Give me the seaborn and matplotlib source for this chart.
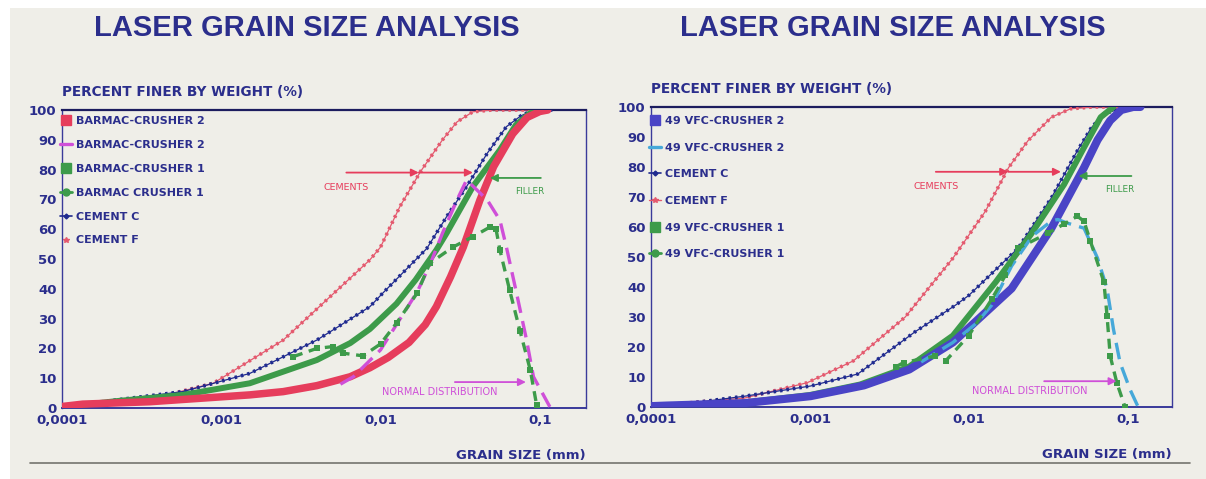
import matplotlib
matplotlib.use("Agg")
import numpy as np
import pandas as pd
import matplotlib.pyplot as plt
from matplotlib.lines import Line2D
from matplotlib.patches import Rectangle
import seaborn as sns

# ============================================================
# DATA (grain size in mm, percent finer by weight)
# ============================================================

# --- left chart : BARMAC ---
cemF_L_x = [0.0001, 0.000219, 0.000457, 0.000891, 0.00245, 0.00857, 0.01, 0.0132, 0.0178, 0.0245, 0.0302, 0.038, 0.05, 0.1]
cemF_L_y = [0.3, 2.2, 4.4, 8.3, 22.8, 49.7, 54, 67.5, 79.3, 90, 96, 99.4, 100, 100]

cemC_L_x = [0.0001, 0.000219, 0.000575, 0.00151, 0.00398, 0.00525, 0.00857, 0.01035, 0.0195, 0.026, 0.0347, 0.0468,
            0.0617, 0.0759, 0.0912, 0.12]
cemC_L_y = [0.3, 2.7, 5.5, 11.6, 22.8, 26.8, 34, 38.6, 53.5, 64.2, 74.3, 85.5, 94.4, 98, 100, 100]

barmac1_x = [0.0001, 0.000219, 0.000575, 0.00151, 0.00398, 0.00646, 0.00857, 0.0126, 0.0166, 0.0224, 0.026, 0.038,
             0.0562, 0.0708, 0.0871, 0.1122]
barmac1_y = [0.3, 2.3, 4.4, 8.3, 16.1, 21.8, 26.5, 35, 43, 53, 58.7, 74.3, 86.6, 95, 99, 100]

barmac2_x = [0.0001, 0.000135, 0.000355, 0.00151, 0.00245, 0.00398, 0.00646, 0.00857, 0.0112, 0.0151, 0.0191,
             0.0224, 0.0275, 0.0331, 0.0421, 0.0513, 0.0676, 0.0832, 0.1, 0.1122]
barmac2_y = [0.5, 1.3, 2.1, 4.4, 5.5, 7.5, 10.5, 13.5, 17, 22, 28, 34, 44, 54, 69.8, 81, 92, 97.5, 99.5, 100]

barmac2_dist_x = [0.0056, 0.00676, 0.01, 0.0126, 0.017, 0.0204, 0.0245, 0.0302, 0.0347, 0.0468, 0.0562, 0.0617,
                  0.0714, 0.0826, 0.0912, 0.1156]
barmac2_dist_y = [8, 10.5, 19.5, 28, 39, 48, 58.7, 69.8, 76.5, 69.8, 63, 54, 38.6, 22.8, 10.5, 0.4]

barmac1_dist_x = [0.00282, 0.00398, 0.00501, 0.00581, 0.00776, 0.01, 0.0126, 0.017, 0.0204, 0.0285, 0.038, 0.049,
                  0.0531, 0.0562, 0.0646, 0.075, 0.0871, 0.0955]
barmac1_dist_y = [17.2, 20, 20.6, 18.4, 17.5, 21.5, 28.5, 38.6, 48.6, 54, 57.5, 60.8, 60, 53, 39.6, 26, 12.8, 1]

# --- right chart : 49 VFC ---
cemF_R_x = [0.0001, 0.000389, 0.000962, 0.00188, 0.00398, 0.00794, 0.0127, 0.0178, 0.0236, 0.0331, 0.0437, 0.06, 0.1]
cemF_R_y = [0.3, 3.0, 8.1, 15.4, 30, 49.6, 65.2, 79.8, 88.8, 96.6, 99.4, 100, 100]

cemC_R_x = [0.0001, 0.000151, 0.000389, 0.00101, 0.002, 0.00457, 0.00822, 0.01, 0.0204, 0.0331, 0.0482, 0.0589,
            0.0708, 0.1, 0.12]
cemC_R_y = [0.3, 0.8, 3.6, 7, 11, 25, 33.9, 37.2, 52.9, 69.7, 85.4, 93, 97.8, 100, 100]

vfc2_x = [0.0001, 0.000126, 0.000389, 0.00101, 0.00219, 0.00422, 0.00794, 0.0186, 0.0331, 0.0531, 0.0646, 0.0776,
          0.0912, 0.1084, 0.1202]
vfc2_y = [0.3, 0.5, 1.3, 3.6, 7.2, 12.5, 21.5, 39.5, 59.6, 79.8, 89, 95.5, 99, 100, 100]

vfc1_x = [0.0001, 0.000389, 0.001, 0.00207, 0.00422, 0.00794, 0.0148, 0.0245, 0.0398, 0.0531, 0.0676, 0.0813]
vfc1_y = [0.3, 1.5, 4, 7.5, 13.5, 23.8, 41.7, 57.4, 74.2, 86.5, 96.6, 100]

vfc2_dist_x = [0.00501, 0.00794, 0.0112, 0.01396, 0.0186, 0.0251, 0.0331, 0.0363, 0.0417, 0.0531, 0.0646, 0.0741,
               0.0813, 0.0895, 0.1035, 0.1164]
vfc2_dist_y = [15, 21.5, 28, 34, 47, 57, 62, 62.5, 61.3, 59.6, 49.6, 39.5, 26, 14.8, 5.8, 0]

vfc1_dist_x = [0.0035, 0.00389, 0.00617, 0.00716, 0.01, 0.01396, 0.017, 0.0204, 0.0316, 0.0398, 0.0482, 0.0531,
               0.0583, 0.0708, 0.0741, 0.0776, 0.0855, 0.0962]
vfc1_dist_y = [13.5, 14.8, 17, 15.4, 23.8, 36, 43.9, 52.9, 58, 61, 63.6, 61.9, 55.2, 41.7, 30.5, 17, 8, 0]

x_ticks = [0.0001, 0.001, 0.01, 0.1]
x_tick_labels = ["0,0001", "0,001", "0,01", "0,1"]
y_ticks = list(range(0, 101, 10))

labels_L = ["BARMAC-CRUSHER 2", "BARMAC-CRUSHER 2", "BARMAC-CRUSHER 1", "BARMAC CRUSHER 1", "CEMENT C", "CEMENT F"]
labels_R = ["49 VFC-CRUSHER 2", "49 VFC-CRUSHER 2", "CEMENT C", "CEMENT F", "49 VFC-CRUSHER 1", "49 VFC-CRUSHER 1"]

# ============================================================
# STYLE
# ============================================================

sns.set_theme(style="white")
plt.rcParams["font.family"] = ["DejaVu Sans"]

NAVY = "#2b2e8c"
RED = "#e63d5c"
RED_F = "#e4596e"
MAGENTA = "#cf4fd8"
GREEN = "#3d9b4a"
BLUE_C = "#1f2a8f"
BLUE_V = "#4a44c6"
CYAN = "#46a8d9"
CREAM = "#efeee8"


def draw(ax, x, y, **kw):
    df = pd.DataFrame({"size": x, "pct": y})
    sns.lineplot(data=df, x="size", y="pct", ax=ax, estimator=None, sort=False,
                 legend=False, **kw)


def dotted(ax, x, y, color):
    # thin line + dense little markers, like the plotter output
    draw(ax, x, y, color=color, lw=0.9, zorder=4)
    draw(ax, x, y, color=color, lw=2.6, linestyle=(0, (0.7, 1.1)), zorder=4)


def setup_axes(ax, xmax):
    ax.set_facecolor("none")
    ax.set_xscale("log")
    ax.set_xlim(0.0001, xmax)
    ax.set_ylim(0, 100)
    ax.set_xticks(x_ticks, x_tick_labels)
    ax.set_yticks(y_ticks)
    ax.minorticks_off()
    ax.tick_params(axis="both", direction="in", length=5, width=1, color=NAVY,
                   labelcolor=NAVY, labelsize=9.5, pad=4)
    for lab in ax.get_xticklabels() + ax.get_yticklabels():
        lab.set_fontweight("bold")
    for side in ["left", "right", "bottom"]:
        ax.spines[side].set_color("#3a3a9a")
        ax.spines[side].set_linewidth(1.0)
    ax.spines["bottom"].set_linewidth(1.4)
    ax.spines["top"].set_color("#1c1c5e")
    ax.spines["top"].set_linewidth(1.6)
    ax.text(0, 1.06, "PERCENT FINER BY WEIGHT (%)", transform=ax.transAxes,
            ha="left", va="center", fontsize=9.8, fontweight="bold", color=NAVY)
    ax.text(1, -0.158, "GRAIN SIZE (mm)", transform=ax.transAxes,
            ha="right", va="center", fontsize=9.5, fontweight="bold", color=NAVY)


def finish_axes(ax):
    ax.set_xlabel("")
    ax.set_ylabel("")


def arrow(ax, x0, x1, y, color):
    ax.annotate("", xy=(x1, y), xytext=(x0, y),
                arrowprops=dict(arrowstyle="-|>", color=color, lw=1.3,
                                mutation_scale=11, shrinkA=0, shrinkB=0), zorder=6)


def add_notes(ax, cem, fil, nd):
    # CEMENTS : double arrow
    arrow(ax, cem[0], cem[1], cem[3], RED)
    arrow(ax, cem[1], cem[2], cem[3], RED)
    ax.text(cem[0], cem[3] - 5, "CEMENTS", color=RED, fontsize=6.8, ha="center", va="center")
    # FILLER
    arrow(ax, fil[0], fil[1], fil[2], GREEN)
    ax.text(fil[3], fil[2] - 4.5, "FILLER", color=GREEN, fontsize=6.4, ha="center", va="center")
    # NORMAL DISTRIBUTION
    arrow(ax, nd[0], nd[1], nd[2], MAGENTA)
    ax.text(nd[3], nd[2] - 3.2, "NORMAL DISTRIBUTION", color=MAGENTA, fontsize=7,
            ha="center", va="center")


def add_legend(ax, handles, labels, spacing, top):
    leg = ax.legend(handles, labels, loc="upper left", bbox_to_anchor=(-0.004, top),
                    frameon=False, borderpad=0, borderaxespad=0, handlelength=1.1,
                    handletextpad=0.35, labelspacing=spacing,
                    prop={"size": 8, "weight": "bold"})
    for t in leg.get_texts():
        t.set_color(NAVY)


# ============================================================
# FIGURE
# ============================================================

fig = plt.figure(figsize=(12.06, 4.79), dpi=100)
fig.patch.set_facecolor(CREAM)
# white paper margin on the left and top, shadow line at the bottom
fig.add_artist(Rectangle((0, 0), 10 / 1206, 1, transform=fig.transFigure,
                         facecolor="white", edgecolor="none", zorder=-10))
fig.add_artist(Rectangle((0, 1 - 8 / 479), 1, 8 / 479, transform=fig.transFigure,
                         facecolor="white", edgecolor="none", zorder=-10))
fig.add_artist(Line2D([30 / 1206, 1190 / 1206], [1 - 463 / 479] * 2,
                      transform=fig.transFigure, color="#55554f", lw=1.2, alpha=0.8, zorder=-5))

axL = fig.add_axes([62 / 1206, 1 - 408 / 479, 524 / 1206, 298 / 479])
axR = fig.add_axes([651 / 1206, 1 - 407 / 479, 521 / 1206, 300 / 479])

# ---------------- left ----------------
setup_axes(axL, 0.195)
dotted(axL, cemF_L_x, cemF_L_y, RED_F)
dotted(axL, cemC_L_x, cemC_L_y, BLUE_C)
draw(axL, barmac1_x, barmac1_y, color=GREEN, lw=4.3, zorder=5)
draw(axL, barmac2_x, barmac2_y, color=RED, lw=5.4, zorder=5)
draw(axL, barmac2_dist_x, barmac2_dist_y, color=MAGENTA, lw=2.4, linestyle=(0, (5, 2.5)), zorder=6)
draw(axL, barmac1_dist_x, barmac1_dist_y, color=GREEN, lw=2.4, linestyle=(0, (3, 2)),
     marker="s", markersize=4, markeredgewidth=0, zorder=6)
finish_axes(axL)

add_notes(axL, (0.0061, 0.0174, 0.038, 79), (0.1015, 0.0486, 77.2, 0.087), (0.0293, 0.0818, 8.7, 0.0236))

handles_L = [
    Line2D([], [], color=RED, marker="s", markersize=7, linestyle="none"),
    Line2D([], [], color=MAGENTA, lw=2.4),
    Line2D([], [], color=GREEN, marker="s", markersize=7, linestyle="none"),
    Line2D([], [], color=GREEN, marker="o", markersize=5, lw=2),
    Line2D([], [], color=BLUE_C, marker="D", markersize=2.5, lw=1.2),
    Line2D([], [], color=RED_F, marker="*", markersize=4, linestyle="none"),
]
add_legend(axL, handles_L, labels_L, 1.25, 0.98)

# ---------------- right ----------------
setup_axes(axR, 0.19)
dotted(axR, cemF_R_x, cemF_R_y, RED_F)
dotted(axR, cemC_R_x, cemC_R_y, BLUE_C)
draw(axR, vfc1_x, vfc1_y, color=GREEN, lw=4.3, zorder=5)
draw(axR, vfc2_x, vfc2_y, color=BLUE_V, lw=5.8, zorder=5)
draw(axR, vfc2_dist_x, vfc2_dist_y, color=CYAN, lw=2.4, linestyle=(0, (5, 2.5)), zorder=6)
draw(axR, vfc1_dist_x, vfc1_dist_y, color=GREEN, lw=2.4, linestyle=(0, (3, 2)),
     marker="s", markersize=4, markeredgewidth=0, zorder=6)
finish_axes(axR)

add_notes(axR, (0.0062, 0.0177, 0.038, 78.4), (0.1055, 0.049, 77, 0.089), (0.0298, 0.0851, 8.6, 0.0243))

handles_R = [
    Line2D([], [], color=BLUE_V, marker="s", markersize=7, linestyle="none"),
    Line2D([], [], color=CYAN, lw=2.4),
    Line2D([], [], color=BLUE_C, marker="D", markersize=2.5, lw=1.2),
    Line2D([], [], color=RED_F, marker="*", markersize=4, lw=1),
    Line2D([], [], color=GREEN, marker="s", markersize=7, linestyle="none"),
    Line2D([], [], color=GREEN, marker="o", markersize=5, lw=2),
]
add_legend(axR, handles_R, labels_R, 1.5, 0.97)

# titles
for xc in [307 / 1206, 893 / 1206]:
    fig.text(xc, 1 - 28 / 479, "LASER GRAIN SIZE ANALYSIS", ha="center", va="center",
             fontsize=21, fontweight="bold", color=NAVY, family=["Liberation Sans", "DejaVu Sans"])

fig.savefig("out.png", dpi=100, facecolor=fig.get_facecolor())
